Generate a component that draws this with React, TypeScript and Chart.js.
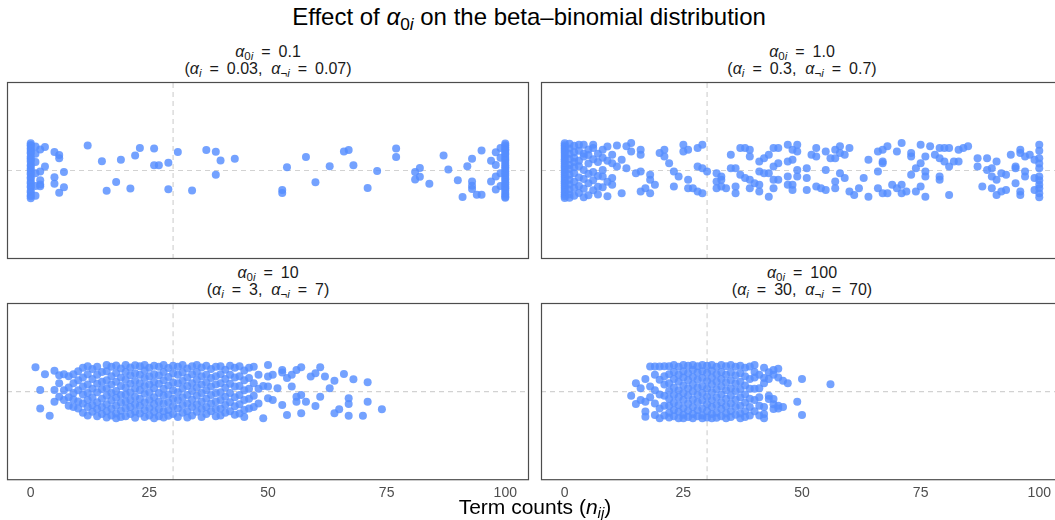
import React, { useEffect, useRef } from "react";
import { Chart, registerables } from "chart.js";

Chart.register(...registerables);

// ---- data: [term count, vertical jitter] grouped as columns per count ----
const xTicks = [0, 25, 50, 75, 100];
const xMin = -5;
const xMax = 105;
const jitterMin = -3.15;
const jitterMax = 3.15;
const referenceCount = 30;

const panel1Columns: [number, number[]][] = [
  [0, [0.97, 0.91, 0.88, 0.79, 0.73, 0.66, 0.61, 0.5, 0.44, 0.37, 0.31, 0.2, 0.16, 0.07, 0.01, -0.08, -0.13, -0.24, -0.29, -0.4, -0.45, -0.55, -0.6, -0.72, -0.77, -0.87, -0.92, -0.99]],
  [1, [0.85, 0.6, 0.3, -0.1, -0.55, -0.9]],
  [2, [0.75, -0.04, -0.35, -0.5, -0.56]],
  [3, [0.84, 0.14]],
  [5, [0.66, -0.24, -0.47]],
  [6, [0.55, 0.44, -0.79]],
  [7, [-0.05, -0.6]],
  [12, [0.89]], [15, [0.33]], [16, [-0.72]], [18, [-0.41]], [19, [0.38]], [21, [-0.64]],
  [22, [0.53]], [23, [0.8]], [26, [0.78, 0.19]], [27, [0.19]], [29, [0.28, -0.67]],
  [31, [0.66]], [34, [-0.71]], [37, [0.73]], [39, [0.67, -0.15]], [40, [0.36]], [43, [0.42]],
  [53, [-0.69, -0.8]], [54, [0.12]], [58, [0.48]], [60, [-0.42]], [63, [0.15]], [66, [0.68]],
  [67, [0.73]], [68, [0.19]], [71, [-0.62]], [73, [-0.02]], [77, [0.78, 0.48]],
  [81, [-0.05, -0.32]], [82, [0.09, -0.22]], [84, [-0.47]], [87, [0.53]], [88, [0.04]],
  [90, [-0.35]], [91, [-0.94]], [92, [0.15]], [93, [0.42, -0.39, -0.54, -0.66]], [94, [-0.86]],
  [95, [-0.86, 0.71]], [97, [0.35, -0.39]], [98, [0.65, 0.2, -0.21, -0.68]], [99, [0.8, 0.45, -0.1, -0.55]],
  [100, [0.96, 0.9, 0.83, 0.76, 0.7, 0.62, 0.57, 0.48, 0.41, 0.35, 0.27, 0.19, 0.12, 0.05, -0.03, -0.11, -0.18, -0.27, -0.33, -0.42, -0.49, -0.58, -0.63, -0.71, -0.8, -0.86, -0.93, -0.97]],
];

const panel2Columns: [number, number[]][] = [
  [0, [0.97, 0.9, 0.84, 0.77, 0.7, 0.63, 0.55, 0.48, 0.4, 0.33, 0.25, 0.17, 0.1, 0.02, -0.06, -0.14, -0.22, -0.3, -0.38, -0.45, -0.53, -0.61, -0.69, -0.77, -0.85, -0.92, -0.98]],
  [1, [0.95, 0.78, 0.6, 0.41, 0.2, 0.05, -0.15, -0.33, -0.5, -0.68, -0.85, -0.97]],
  [2, [0.88, 0.65, 0.45, 0.3, 0.12, -0.1, -0.4, -0.62, -0.9]],
  [3, [0.92, 0.7, 0.35, 0.15, -0.25, -0.55, -0.8]],
  [4, [0.92, 0.6, 0.5, 0.02, -0.3, -0.65, -0.95]],
  [5, [0.75, 0.55, 0.25, -0.12, -0.45, -0.88]],
  [6, [0.92, 0.8, 0.4, -0.05, -0.35, -0.7]],
  [7, [0.6, 0.3, -0.2, -0.58, -0.85]],
  [8, [0.74, 0.45, 0.02, -0.21, -0.6]],
  [9, [0.85, 0.35, -0.4, -0.92]],
  [10, [0.56, 0.26, -0.27, -0.51]],
  [11, [0.89, 0.14]], [12, [0.38, -0.81]], [13, [0.86, 0.08]], [14, [0.98, 0.68]], [15, [-0.1]],
  [16, [0.56, 0.74, -0.04, -0.75]], [17, [-0.63]], [18, [-0.15, -0.33, -0.81]], [19, [-0.51]],
  [20, [0.62]], [21, [0.74, 0.5]], [22, [0.26]], [23, [-0.04, -0.57]], [24, [-0.21]],
  [25, [0.92, 0.68]], [26, [-0.33, 0.74, -0.63]], [27, [-0.63]], [28, [0.8, -0.75, 0.14]],
  [29, [0.92, -0.81, 0.08]], [30, [-0.04]], [32, [-0.1, -0.39, -0.63]], [33, [-0.21, -0.33, -0.57]],
  [34, [-0.63]], [35, [0.56, 0.08]], [36, [0.08, -0.57, -0.81]], [37, [0.8, -0.15]], [38, [0.8, -0.27]],
  [39, [0.74, 0.5, -0.33, -0.63]], [40, [-0.45]], [41, [-0.51, -0.75, 0.32, -0.04]], [42, [0.44, -0.1]],
  [43, [-0.93, 0.56, -0.1]], [44, [0.8, 0.14, -0.33, -0.63]], [45, [0.8, 0.26, -0.33]],
  [47, [0.92, 0.32, -0.21, -0.51]], [48, [0.74, 0.38, -0.69, -0.51]], [49, [0.02, 0.92, 0.68, -0.21]],
  [51, [0.08, -0.27, -0.69]], [52, [0.56]], [53, [0.8, 0.5, -0.57]], [54, [-0.63]], [55, [0.68, 0.02, -0.69]],
  [56, [0.44]], [57, [0.74, 0.44, -0.39, -0.63]], [58, [0.86, 0.62, -0.1]], [59, [0.56, -0.27]],
  [60, [0.8, -0.75]], [61, [-0.87]], [62, [-0.63]], [63, [-0.27]], [64, [0.38, -0.93]],
  [66, [-0.04, -0.63, 0.68]], [67, [0.32, 0.26, 0.74, -0.81]], [68, [0.86, -0.81]], [69, [-0.51]],
  [70, [0.68, -0.63]], [71, [0.98, -0.51, -0.81]], [72, [-0.75]], [73, [0.62, 0.5, -0.15]],
  [74, [0.08, -0.75]], [75, [0.26, -0.57, 0.92]], [76, [-0.04, -0.21, -0.93, 0.5]], [77, [0.86]],
  [78, [0.56]], [79, [0.8, 0.44, -0.21, -0.33]], [80, [0.32, 0.8]], [81, [0.8, 0.14, -0.87]],
  [82, [0.32]], [83, [0.32, 0.74]], [84, [0.8]], [85, [0.86]], [87, [0.44, 0.14]], [88, [-0.57]],
  [89, [0.44, 0.02]], [90, [0.08, -0.21, -0.63]], [91, [0.32, -0.33, -0.87]], [92, [-0.1, -0.75]],
  [93, [-0.15, -0.69]], [94, [0.56]], [95, [0.08, -0.45, 0.14]], [96, [-0.87, -0.75, 0.74, 0.62]],
  [97, [0.5, -0.04, -0.21]], [98, [0.56]], [99, [0.38, -0.27, -0.69]],
  [100, [0.92, 0.7, 0.44, 0.25, 0.08, -0.21, -0.35, -0.51, -0.63, -0.81, -0.95]],
];

const panel3Columns: [number, number[]][] = [
  [1, [0.87]], [2, [0.06, -0.6]], [3, [0.62]], [4, [-0.86]], [5, [0.74, 0.06, -0.36]],
  [6, [0.3, -0.18, 0.58]],
  [7, [0.62, -0.3, 0.05]],
  [8, [0.55, 0.15, -0.2, -0.5]],
  [9, [0.62, 0.3, -0.05, -0.28, -0.55]],
  [10, [0.72, 0.4, 0.05, -0.35, -0.6]],
  [11, [0.85, 0.5, 0.18, -0.1, -0.42, -0.75]],
  [12, [0.9, 0.62, 0.25, -0.05, -0.3, -0.55, -0.85]],
  [13, [0.8, 0.45, 0.1, -0.2, -0.48, -0.72]],
  [14, [0.88, 0.6, 0.28, -0.02, -0.38, -0.62, -0.88]],
  [15, [0.7, 0.35, 0.08, -0.25, -0.55, -0.8]],
  [16, [0.95, 0.72, 0.4, 0.12, -0.15, -0.45, -0.7, -0.92]],
  [17, [0.88, 0.55, 0.25, -0.05, -0.32, -0.6, -0.85]],
  [18, [0.93, 0.66, 0.35, 0.02, -0.22, -0.5, -0.78, -0.95]],
  [19, [0.82, 0.5, 0.2, -0.12, -0.4, -0.68, -0.9]],
  [20, [0.95, 0.7, 0.42, 0.15, -0.1, -0.35, -0.6, -0.88]],
  [21, [0.86, 0.58, 0.28, -0.02, -0.3, -0.55, -0.8]],
  [22, [0.94, 0.65, 0.38, 0.1, -0.18, -0.45, -0.72, -0.93]],
  [23, [0.9, 0.6, 0.3, 0.05, -0.25, -0.5, -0.78]],
  [24, [0.95, 0.75, 0.48, 0.2, -0.08, -0.38, -0.65, -0.9]],
  [25, [0.85, 0.55, 0.25, -0.02, -0.3, -0.58, -0.85]],
  [26, [0.92, 0.62, 0.35, 0.12, -0.2, -0.45, -0.72, -0.95]],
  [27, [0.88, 0.58, 0.28, -0.05, -0.35, -0.62, -0.88]],
  [28, [0.95, 0.7, 0.4, 0.1, -0.15, -0.42, -0.7, -0.92]],
  [29, [0.84, 0.52, 0.22, -0.1, -0.38, -0.65, -0.86]],
  [30, [0.92, 0.65, 0.32, 0.05, -0.25, -0.52, -0.8]],
  [31, [0.88, 0.6, 0.3, -0.02, -0.3, -0.6, -0.9]],
  [32, [0.95, 0.68, 0.38, 0.1, -0.2, -0.48, -0.75]],
  [33, [0.82, 0.5, 0.2, -0.12, -0.42, -0.7, -0.92]],
  [34, [0.9, 0.62, 0.3, 0.02, -0.28, -0.55, -0.85]],
  [35, [0.95, 0.7, 0.42, 0.15, -0.15, -0.45, -0.72]],
  [36, [0.86, 0.55, 0.25, -0.05, -0.35, -0.62, -0.9]],
  [37, [0.92, 0.6, 0.32, 0.05, -0.25, -0.55, -0.8]],
  [38, [0.8, 0.48, 0.18, -0.12, -0.42, -0.7]],
  [39, [0.88, 0.55, 0.25, -0.05, -0.35, -0.62, -0.88]],
  [40, [0.9, 0.62, 0.3, -0.02, -0.3, -0.6, -0.85]],
  [41, [0.78, 0.45, 0.15, -0.18, -0.48, -0.75]],
  [42, [0.92, 0.6, 0.28, -0.05, -0.38, -0.7]],
  [43, [0.85, 0.5, 0.18, -0.2, -0.52, -0.82]],
  [44, [0.9, 0.55, 0.2, -0.12, -0.45, -0.78]],
  [45, [0.75, 0.4, 0.05, -0.3, -0.65, -0.9]],
  [46, [0.85, 0.48, 0.1, -0.25, -0.6]],
  [47, [0.88, 0.3, -0.15, -0.55]],
  [48, [0.6, 0.1, -0.42]],
  [49, [0.2, -0.95]],
  [50, [0.95, 0.54, 0.18, -0.24]], [51, [0.6, -0.3]], [52, [0.12]], [53, [0.77, 0.68, -0.48]],
  [54, [-0.83, 0.48]], [55, [0.18, 0.6]], [56, [0.77, -0.18, -0.36]], [57, [0.87, -0.77, -0.12]],
  [58, [-0.36]], [59, [0.54]], [60, [0.65, -0.51]], [61, [0.87, -0.18]], [62, [0.54]], [63, [0.12]],
  [64, [0.39, -0.77]], [65, [-0.63]], [66, [0.63]], [67, [-0.24, -0.44, -0.86]], [68, [0.44]],
  [70, [-0.86]], [71, [0.33, -0.36]], [74, [-0.63]],
];

const panel4Columns: [number, number[]][] = [
  [14, [-0.15]], [15, [0.3, -0.44]], [16, [0.12, -0.3]], [17, [0.45, -0.36, -0.71, -0.89]],
  [18, [0.89, 0.18, -0.2]], [19, [0.89, 0.6, 0.05, -0.42, -0.83]], [20, [0.89, 0.42, -0.1, -0.6, -0.95]],
  [21, [0.9, 0.55, 0.25, -0.15, -0.5, -0.85]],
  [22, [0.9, 0.62, 0.3, 0.02, -0.25, -0.5, -0.75, -0.92]],
  [23, [0.95, 0.7, 0.45, 0.15, -0.12, -0.4, -0.65, -0.88]],
  [24, [0.88, 0.6, 0.35, 0.05, -0.2, -0.48, -0.72, -0.95]],
  [25, [0.95, 0.72, 0.5, 0.22, -0.05, -0.3, -0.58, -0.82, -0.95]],
  [26, [0.92, 0.65, 0.4, 0.12, -0.15, -0.42, -0.68, -0.9]],
  [27, [0.95, 0.78, 0.52, 0.25, 0, -0.28, -0.55, -0.8, -0.95]],
  [28, [0.9, 0.68, 0.42, 0.15, -0.12, -0.38, -0.65, -0.88]],
  [29, [0.95, 0.72, 0.48, 0.2, -0.05, -0.32, -0.6, -0.85, -0.95]],
  [30, [0.92, 0.66, 0.38, 0.1, -0.18, -0.45, -0.7, -0.92]],
  [31, [0.95, 0.75, 0.5, 0.25, -0.02, -0.3, -0.55, -0.8, -0.95]],
  [32, [0.88, 0.62, 0.35, 0.08, -0.2, -0.48, -0.75, -0.93]],
  [33, [0.95, 0.7, 0.45, 0.18, -0.1, -0.38, -0.62, -0.88]],
  [34, [0.9, 0.6, 0.32, 0.05, -0.25, -0.52, -0.78, -0.95]],
  [35, [0.95, 0.68, 0.4, 0.12, -0.15, -0.42, -0.7, -0.9]],
  [36, [0.88, 0.58, 0.3, 0.02, -0.28, -0.55, -0.82]],
  [37, [0.92, 0.65, 0.35, 0.08, -0.2, -0.5, -0.78, -0.95]],
  [38, [0.85, 0.55, 0.22, -0.1, -0.4, -0.7, -0.9]],
  [39, [0.89, 0.45, 0.1, -0.25, -0.55, -0.85]],
  [40, [0.95, 0.7, 0.5, 0.1, -0.3, -0.7]],
  [41, [0.6, 0.12, -0.2, -0.5, -0.85]],
  [42, [0.85, 0.48, 0.3, -0.55, -0.8, -0.95]],
  [43, [0.69, 0.45, -0.15, -0.26]],
  [44, [0.77, 0.6, -0.26, -0.45, -0.62]],
  [45, [0.81, 0.5, -0.5, -0.6]],
  [46, [0.39, -0.55]],
  [47, [0.3]],
  [49, [-0.36]],
  [50, [0.45, -0.83]],
  [56, [0.26]],
];

// ---- text ----
const plotTitleStart = "Effect of ";
const plotTitleEnd = " on the beta\u2013binomial distribution";
const panelAlpha0 = ["0.1", "1.0", "10", "100"];
const panelAlphaI = ["0.03", "0.3", "3", "30"];
const panelAlphaNotI = ["0.07", "0.7", "7", "70"];
const axisTitleStart = "Term counts (";
const EQ = "\u2002=\u2002";

const POINT_COLOR = "rgba(85,142,255,0.82)";
const REF_COLOR = "#d2d2d2";
const FONT = "'Liberation Sans', Arial, Helvetica, sans-serif";

function toPoints(columns: [number, number[]][]) {
  const out: { x: number; y: number }[] = [];
  columns.forEach(([count, jit]) => jit.forEach((j) => out.push({ x: count, y: j })));
  return out;
}

const boxPlugin = {
  id: "panelBox",
  afterDraw(chart: any) {
    const { ctx, chartArea: a } = chart;
    ctx.save();
    ctx.strokeStyle = "#4d4d4d";
    ctx.lineWidth = 1.2;
    ctx.strokeRect(a.left + 0.5, a.top + 0.5, a.right - a.left - 1, a.bottom - a.top - 1);
    ctx.restore();
  },
};

type PanelProps = {
  columns: [number, number[]][];
  showTicks: boolean;
  left: number;
  top: number;
  boxWidth: number;
  boxHeight: number;
};

const TICK_PAD = 5;
const AXIS_H = 27;

function Panel({ columns, showTicks, left, top, boxWidth, boxHeight }: PanelProps) {
  const ref = useRef<HTMLCanvasElement>(null);
  const width = boxWidth + 2;
  const height = boxHeight + 2 + (showTicks ? AXIS_H - 1 : 0);
  useEffect(() => {
    if (!ref.current) return;
    const chart = new Chart(ref.current, {
      type: "scatter",
      data: {
        datasets: [
          {
            type: "line",
            data: [
              { x: referenceCount, y: jitterMin },
              { x: referenceCount, y: jitterMax },
            ],
            borderColor: REF_COLOR,
            borderWidth: 1.2,
            borderDash: [5, 4],
            pointRadius: 0,
            order: 3,
          } as any,
          {
            type: "line",
            data: [
              { x: xMin, y: 0 },
              { x: xMax, y: 0 },
            ],
            borderColor: REF_COLOR,
            borderWidth: 1.2,
            borderDash: [5, 4],
            pointRadius: 0,
            order: 2,
          } as any,
          {
            data: toPoints(columns),
            backgroundColor: POINT_COLOR,
            borderWidth: 0,
            pointRadius: 4,
            order: 1,
          },
        ],
      },
      options: {
        animation: false,
        responsive: false,
        maintainAspectRatio: false,
        events: [],
        layout: {
          autoPadding: false,
          padding: { left: 1, right: 1, top: 1, bottom: showTicks ? 0 : 1 },
        },
        plugins: { legend: { display: false }, tooltip: { enabled: false } },
        scales: {
          x: {
            type: "linear",
            min: xMin,
            max: xMax,
            display: showTicks,
            grid: { display: false, drawTicks: false, tickLength: 0 },
            border: { display: false },
            afterBuildTicks: (axis: any) => {
              axis.ticks = xTicks.map((v) => ({ value: v }));
            },
            ticks: {
              color: "#4d4d4d",
              font: { family: FONT, size: 14 },
              padding: TICK_PAD,
              maxRotation: 0,
              autoSkip: false,
            },
          },
          y: { type: "linear", min: jitterMin, max: jitterMax, display: false },
        },
      } as any,
      plugins: [boxPlugin],
    });
    return () => chart.destroy();
  }, []);
  return (
    <canvas
      ref={ref}
      width={width}
      height={height}
      style={{ position: "absolute", left: left - 1, top: top - 1, width, height }}
    />
  );
}

const sub: React.CSSProperties = { fontSize: "0.72em", verticalAlign: "-0.28em", lineHeight: 0 };

function Alpha({ children }: { children?: React.ReactNode }) {
  return (
    <span>
      <i>α</i>
      <span style={sub}>{children}</span>
    </span>
  );
}

function StripTitle({ idx, centerX, boxTop }: { idx: number; centerX: number; boxTop: number }) {
  const common: React.CSSProperties = {
    position: "absolute",
    left: centerX - 200,
    width: 400,
    textAlign: "center",
    fontFamily: FONT,
    fontSize: 16,
    lineHeight: "18px",
    color: "#1a1a1a",
    whiteSpace: "pre",
  };
  return (
    <>
      <div style={{ ...common, top: boxTop - 39 }}>
        <Alpha>
          0<i>i</i>
        </Alpha>
        {EQ + panelAlpha0[idx]}
      </div>
      <div style={{ ...common, top: boxTop - 22 }}>
        {"("}
        <Alpha>
          <i>i</i>
        </Alpha>
        {EQ + panelAlphaI[idx] + ",  "}
        <Alpha>
          ¬<i>i</i>
        </Alpha>
        {EQ + panelAlphaNotI[idx] + ")"}
      </div>
    </>
  );
}

export default function App() {
  const boxW = 522;
  const boxH = 177;
  const lefts = [7, 541];
  const tops = [82, 303];
  const panels = [panel1Columns, panel2Columns, panel3Columns, panel4Columns];
  return (
    <div
      style={{
        position: "fixed",
        left: 0,
        top: 0,
        width: 1055,
        height: 520,
        overflow: "hidden",
        background: "#ffffff",
        fontFamily: FONT,
      }}
    >
      <div
        style={{
          position: "absolute",
          left: 0,
          top: 2,
          width: 1058,
          textAlign: "center",
          fontSize: 24,
          lineHeight: "30px",
          color: "#000",
          whiteSpace: "pre",
        }}
      >
        {plotTitleStart}
        <Alpha>
          0<i>i</i>
        </Alpha>
        {plotTitleEnd}
      </div>
      {panels.map((cols, i) => {
        const left = lefts[i % 2];
        const top = tops[Math.floor(i / 2)];
        return (
          <React.Fragment key={i}>
            <StripTitle idx={i} centerX={left + boxW / 2} boxTop={top} />
            <Panel
              columns={cols}
              showTicks={i >= 2}
              left={left}
              top={top}
              boxWidth={boxW}
              boxHeight={boxH}
            />
          </React.Fragment>
        );
      })}
      <div
        style={{
          position: "absolute",
          left: 335,
          width: 400,
          top: 494,
          textAlign: "center",
          fontSize: 21,
          lineHeight: "26px",
          color: "#000",
          whiteSpace: "pre",
        }}
      >
        {axisTitleStart}
        <i>n</i>
        <span style={sub}>
          <i>ij</i>
        </span>
        {")"}
      </div>
    </div>
  );
}
